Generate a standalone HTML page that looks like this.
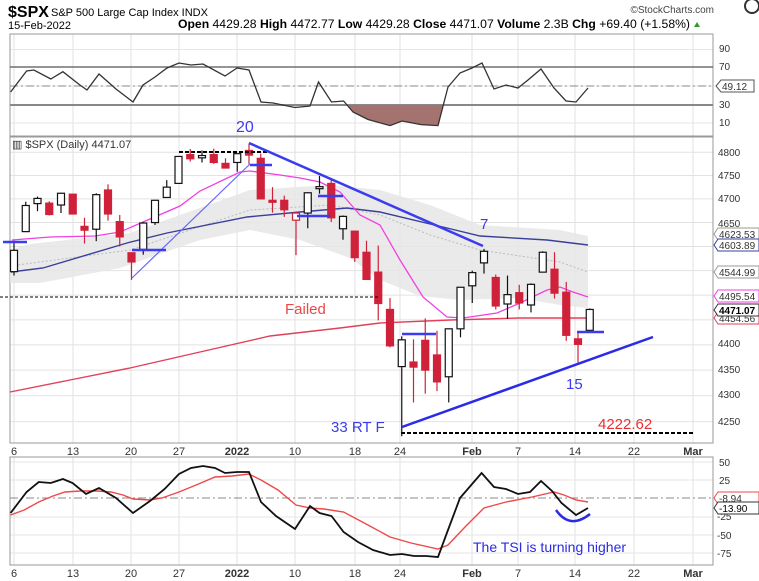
<!DOCTYPE html>
<html><head><meta charset="utf-8"><style>
html,body{margin:0;padding:0;background:#fff;}
svg{display:block;font-family:"Liberation Sans",Arial,sans-serif;}
</style></head><body>
<svg id="s" width="759" height="581" viewBox="0 0 759 581" xmlns="http://www.w3.org/2000/svg">
<rect width="759" height="581" fill="#fff"/>
<text x="8" y="17" font-size="16" font-weight="bold" fill="#000">$SPX</text>
<text x="51" y="16" font-size="11" fill="#000">S&amp;P 500 Large Cap Index  INDX</text>
<text x="8" y="29" font-size="11" fill="#000">15-Feb-2022</text>
<text x="178" y="28" font-size="11.5" fill="#000" textLength="512" lengthAdjust="spacingAndGlyphs"><tspan font-weight="bold">Open</tspan> 4429.28 <tspan font-weight="bold">High</tspan> 4472.77 <tspan font-weight="bold">Low</tspan> 4429.28 <tspan font-weight="bold">Close</tspan> 4471.07 <tspan font-weight="bold">Volume</tspan> 2.3B <tspan font-weight="bold">Chg</tspan> +69.40 (+1.58%)</text>
<polygon points="694,27 700,27 697,22" fill="#2a9d2a"/>
<text x="714" y="13" font-size="10" fill="#444" text-anchor="end">©StockCharts.com</text>
<circle cx="752" cy="6" r="7" fill="none" stroke="#333" stroke-width="2"/>
<g id="grid"></g>
<rect x="10" y="34" width="703" height="102" fill="none" stroke="#999"/>
<rect x="10" y="137" width="703" height="306" fill="none" stroke="#999"/>
<rect x="10" y="457" width="703" height="108" fill="none" stroke="#999"/>
<line x1="10" x2="713" y1="67" y2="67" stroke="#555" stroke-width="1.3"/>
<line x1="10" x2="713" y1="105" y2="105" stroke="#888" stroke-width="2"/>
<line x1="10" x2="713" y1="86" y2="86" stroke="#888" stroke-dasharray="8,3,2,3"/>
<polygon points="347,105 353,112 368,119.5 390,125.6 402,121 421,124.6 438,125.6 443,105" fill="#a5736f"/>
<polyline fill="none" stroke="#333" stroke-width="1.3" points="10.6,92 26.6,71 33.9,70 50.8,79 62.9,71.7 79.9,85 87,90 99,74 116,89 133,102 143,85 155,77 167,68 179,63 191,65 203,64 225,76 237,68 249,70 261,102 273,103 295,107.5 310,106 318.5,82 331.5,102 343.6,101 353,112 368,119.5 390,125.6 402,121 421,124.6 438,125.6 448,87 460,73 472,68 482,63 494,89 506,85 518,88 528,80 541,69 554,88 566,101 576,102 588,88"/>
<g font-size="10" fill="#333"><text x="719" y="52">90</text><text x="719" y="70">70</text><text x="719" y="108">30</text><text x="719" y="126">10</text></g>
<path d="M716,86 l5,-6 h33 v12 h-33 z" fill="#fff" stroke="#555"/>
<text x="722" y="90" font-size="10" fill="#333">49.12</text>
<text x="12" y="148" font-size="11" fill="#333">▥ $SPX (Daily) 4471.07</text>
<polygon fill="#e6e6e6" fill-opacity="0.85" points="10,250 30,244 130,233 180,215 250,190 330,185 380,190 430,205 480,225 560,230 588,236 588,308 560,305 520,298 460,300 420,296 380,280 350,258 300,240 250,230 200,240 120,268 40,283 10,283"/>
<polyline fill="none" stroke="#bbb" stroke-dasharray="2,2" points="10,266 130,250 250,210 330,205 380,215 430,235 480,250 560,262 588,272"/>
<polyline fill="none" stroke="#e0405a" stroke-width="1.4" points="10,392 70,380 130,368 200,352 270,336 340,328 380,323 450,320 520,318 588,318"/>
<polyline fill="none" stroke="#3b3f99" stroke-width="1.4" points="11,272 43,268 127,243 167,233 247,217 300,212 347,208 380,212 447,228 480,236 547,240 588,245"/>
<polyline fill="none" stroke="#f040e0" stroke-width="1.3" points="12,240 50,237 95,236 120,232 150,219 180,206 200,191 240,172 250,171 280,175 300,178 320,182 340,192 360,215 380,225 400,260 423,297 447,317 463,318 497,313 520,303 547,290 560,287 573,292 588,297"/>
<g id="candles"></g>
<line x1="0" x2="380" y1="297" y2="297" stroke="#000" stroke-dasharray="3,2"/>
<line x1="179" x2="268" y1="152" y2="152" stroke="#000" stroke-width="2" stroke-dasharray="4,2"/>
<line x1="401" x2="693" y1="433" y2="433" stroke="#000" stroke-width="2" stroke-dasharray="4,2"/>
<line x1="249" y1="143" x2="483" y2="246" stroke="#3b3bef" stroke-width="2.5"/>
<line x1="132" y1="278" x2="250" y2="164" stroke="#6666ff" stroke-width="1.2"/>
<line x1="402" y1="427" x2="653" y2="337" stroke="#2a2ae8" stroke-width="2.5"/>
<g stroke="#3b3bef" stroke-width="2.5">
<line x1="3" x2="27" y1="242" y2="242"/><line x1="132" x2="166" y1="250" y2="250"/>
<line x1="250" x2="272" y1="165" y2="165"/><line x1="297" x2="330" y1="216" y2="216"/>
<line x1="318" x2="343" y1="196" y2="196"/><line x1="402" x2="436" y1="334" y2="334"/>
<line x1="577" x2="604" y1="332" y2="332"/></g>
<text x="236" y="132" font-size="16" fill="#3b3bef">20</text>
<text x="480" y="229" font-size="15" fill="#3b3bef">7</text>
<text x="285" y="314" font-size="15" fill="#e84848">Failed</text>
<text x="331" y="432" font-size="15" fill="#3b3bef">33 RT F</text>
<text x="566" y="389" font-size="15" fill="#3b3bef">15</text>
<text x="598" y="429" font-size="15" fill="#e83030">4222.62</text>
<g font-size="10" fill="#333">
<text x="718" y="156">4800</text><text x="718" y="179">4750</text><text x="718" y="202">4700</text><text x="718" y="227">4650</text>
<text x="718" y="347">4400</text><text x="718" y="373">4350</text><text x="718" y="398">4300</text><text x="718" y="425">4250</text></g>
<g font-size="10">
<path d="M714,318 l4,-6 h41 v12 h-41 z" fill="#fff" stroke="#e0405a"/><text x="719" y="322" fill="#333">4454.56</text>
<path d="M714,234 l4,-6 h41 v12 h-41 z" fill="#fff" stroke="#999"/><text x="719" y="238" fill="#333">4623.53</text>
<path d="M714,245 l4,-6 h41 v12 h-41 z" fill="#fff" stroke="#3b3f99"/><text x="719" y="249" fill="#333">4603.89</text>
<path d="M714,272 l4,-6 h41 v12 h-41 z" fill="#fff" stroke="#999"/><text x="719" y="276" fill="#333">4544.99</text>
<path d="M714,296 l4,-6 h41 v12 h-41 z" fill="#fff" stroke="#f040e0"/><text x="719" y="300" fill="#333">4495.54</text>
<path d="M714,310 l4,-6 h41 v12 h-41 z" fill="#fff" stroke="#333"/><text x="719" y="314" fill="#000" font-weight="bold">4471.07</text>
</g>
<g font-size="11" fill="#333" text-anchor="middle">
<text x="14" y="455">6</text><text x="73" y="455">13</text><text x="131" y="455">20</text><text x="179" y="455">27</text><text x="237" y="455" font-weight="bold">2022</text><text x="295" y="455">10</text><text x="355" y="455">18</text><text x="400" y="455">24</text><text x="472" y="455" font-weight="bold">Feb</text><text x="518" y="455">7</text><text x="575" y="455">14</text><text x="634" y="455">22</text><text x="693" y="455" font-weight="bold">Mar</text></g>
<g font-size="11" fill="#333" text-anchor="middle">
<text x="14" y="577">6</text><text x="73" y="577">13</text><text x="131" y="577">20</text><text x="179" y="577">27</text><text x="237" y="577" font-weight="bold">2022</text><text x="295" y="577">10</text><text x="355" y="577">18</text><text x="400" y="577">24</text><text x="472" y="577" font-weight="bold">Feb</text><text x="518" y="577">7</text><text x="575" y="577">14</text><text x="634" y="577">22</text><text x="693" y="577" font-weight="bold">Mar</text></g>
<line x1="10" x2="713" y1="498" y2="498" stroke="#888" stroke-dasharray="8,3,2,3"/>
<polyline fill="none" stroke="#f04848" stroke-width="1.4" points="10.6,515 24.2,510 38.7,502 53,496 65,492 80,491 97,491 111,492 123,495 133,499 150,500 162,498 179,492 198.5,484 215,477 232,476 249,474 261,480 278,490 296,505 310,508 324,509 343.6,512 368,525 390,537 411,543 438,549 448,545 465,527 484,508 506,502 532,497 554,492 564,495 576,500 588,502"/>
<polyline fill="none" stroke="#111" stroke-width="1.8" points="10.6,513 26.6,492 38.7,482 50.8,483 62.9,479 72.6,483 86,494 99,488 116,498 133,513 150,501 164.6,489 179,474 191,468 203,466 215,468 225,473 237,472 249,472 261,502 276,516 295,529 310,506 319.5,513 331.5,516 343.6,532 358,542 373,550 390,555 402,554 414,556 426,556 438,557 448,530 460,498 469.5,487 481.6,473 494,487 506,489 518,494 530,492 541,481 552,491 561.5,503 576,515 588,508"/>
<path d="M556,510 Q570,530 590,514" fill="none" stroke="#2a2ae8" stroke-width="2.5"/>
<text x="473" y="552" font-size="14" fill="#2a2ae8">The TSI is turning higher</text>
<g font-size="10" fill="#333"><text x="719" y="466">50</text><text x="719" y="484">25</text><text x="717" y="520">-25</text><text x="717" y="539">-50</text><text x="717" y="557">-75</text></g>
<path d="M714,498 l4,-6 h41 v12 h-41 z" fill="#fff" stroke="#f04848"/><text x="719" y="502" font-size="10" fill="#333">-8.94</text>
<path d="M714,508 l4,-6 h41 v12 h-41 z" fill="#fff" stroke="#333"/><text x="719" y="512" font-size="10" fill="#000">-13.90</text>
</svg>
<script>
(function(){
var NS="http://www.w3.org/2000/svg";
function el(t,a,p){var e=document.createElementNS(NS,t);for(var k in a)e.setAttribute(k,a[k]);p.appendChild(e);return e;}
var grid=document.getElementById('grid');
var xs=[14,73,131,179,237,295,355,400,472,518,575,634,693];
[[34,136],[137,443],[457,565]].forEach(function(r){xs.forEach(function(x){el('line',{x1:x,x2:x,y1:r[0],y2:r[1],stroke:'#e2e2e2'},grid);});});
function Y(p){return 152.3+2213*(Math.log(4800)-Math.log(p));}
for(var p=4250;p<=4800;p+=50){el('line',{x1:10,x2:713,y1:Y(p),y2:Y(p),stroke:'#e2e2e2'},grid);}
[49.5,67,86,105,123].forEach(function(y){el('line',{x1:10,x2:713,y1:y,y2:y,stroke:'#e6e6e6'},grid);});
[462,480,517,535,553].forEach(function(y){el('line',{x1:10,x2:713,y1:y,y2:y,stroke:'#e6e6e6'},grid);});
var d=[[4548,4612,4540,4592],[4631,4694,4631,4686],[4690,4705,4674,4701],[4691,4695,4665,4667],[4687,4713,4670,4712],
[4710,4711,4667,4668],[4642,4660,4606,4634],[4636,4712,4611,4709],[4719,4731,4654,4668],[4652,4666,4600,4620],
[4587,4587,4531,4568],[4594,4651,4583,4649],[4650,4698,4645,4697],[4703,4740,4703,4725],
[4733,4791,4733,4791],[4795,4807,4780,4786],[4788,4804,4778,4793],[4795,4808,4775,4778],[4776,4787,4766,4766],
[4778,4797,4758,4797],[4804,4819,4774,4794],[4787,4797,4700,4700],[4697,4725,4671,4693],[4697,4707,4662,4677],
[4655,4673,4582,4670],[4670,4714,4638,4713],[4722,4749,4711,4726],[4733,4744,4651,4660],[4637,4665,4614,4663],
[4632,4632,4568,4577],[4588,4612,4533,4532],[4547,4602,4449,4483],[4471,4494,4395,4398],
[4357,4417,4222,4410],[4366,4411,4287,4356],[4409,4453,4304,4350],[4380,4428,4309,4327],[4337,4432,4287,4432],
[4432,4516,4415,4516],[4519,4550,4484,4546],[4566,4595,4544,4590],[4536,4542,4471,4478],[4482,4540,4452,4501],
[4505,4521,4471,4484],[4480,4524,4465,4522],[4547,4590,4547,4588],[4553,4588,4493,4504],[4506,4527,4408,4419],
[4412,4426,4365,4401],[4429,4473,4429,4471]];
var g=document.getElementById('candles');var prev=4538;
d.forEach(function(c,i){
 var x=14+11.75*i,o=c[0],h=c[1],l=c[2],cl=c[3];
 var col=cl>=prev?'#111':'#d0213b';
 el('line',{x1:x,x2:x,y1:Y(h),y2:Y(l),stroke:col,'stroke-width':1.2},g);
 var top=Y(Math.max(o,cl)),bot=Y(Math.min(o,cl));if(bot-top<2){bot=top+2;}
 var hollow=cl>=o;
 el('rect',{x:x-3.5,y:top,width:7,height:bot-top,fill:hollow?'#fff':col,stroke:col,'stroke-width':1.2},g);
 prev=cl;});
})();
</script>
</body></html>
